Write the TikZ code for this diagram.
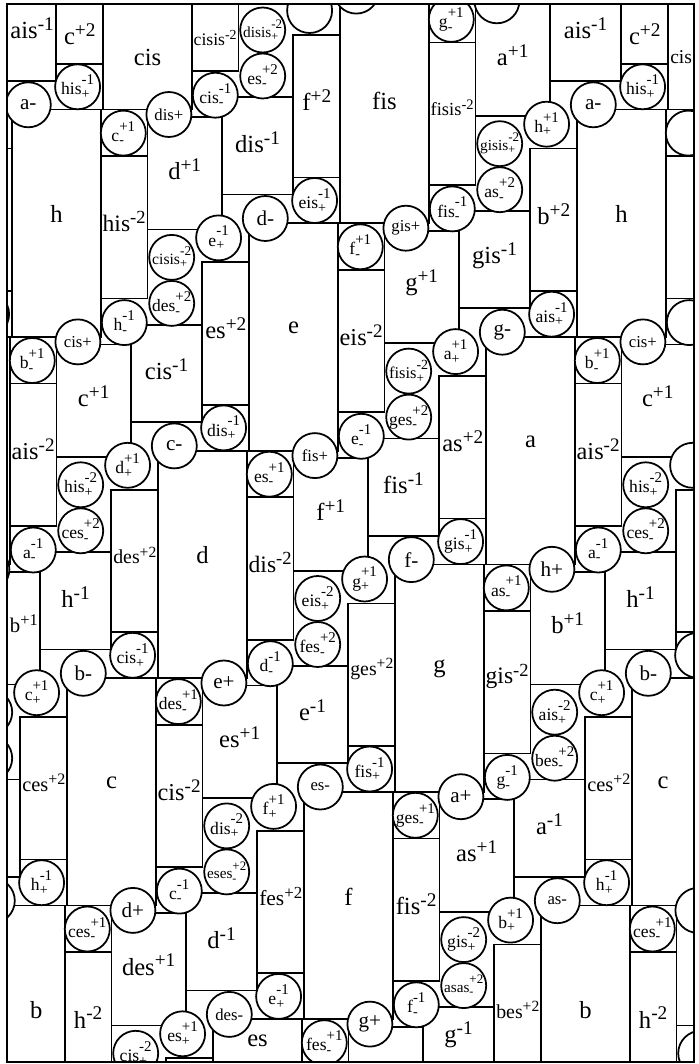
\documentclass[tikz,border=0pt]{standalone}
\usepackage{fontspec}
\setmainfont{Liberation Serif}
\usepackage{graphicx}
\newsavebox\labbox
\newdimen\pxu \pxu=0.02cm
% note names on the chain of fifths, index 0 = c
\newcommand\nm[1]{\ifcase\numexpr#1+12\relax deses\or asas\or eses\or bes\or fes\or ces\or ges\or des\or as\or es\or b\or f\or c\or g\or d\or a\or e\or h\or fis\or cis\or gis\or dis\or ais\or eis\or his\or fisis\or cisis\or gisis\or disis\or aisis\or eisis\fi}
\newcommand\fitlab[2]{\sbox\labbox{#2}\ifdim\wd\labbox>#1\relax\ifdim0.6\wd\labbox>#1\relax\else\resizebox{#1}{!}{\usebox\labbox}\fi\else\usebox\labbox\fi}
\newcommand\biglab[1]{{\fontsize{14}{15}\selectfont#1}}
\newcommand\rlab[2]{{\fontsize{14}{15}\selectfont#1}\raisebox{1ex}{\fontsize{11}{12}\selectfont#2}}
\newcommand\clab[3]{{\fontsize{10}{11}\selectfont#1}\rlap{\raisebox{-.45ex}{\fontsize{8}{9}\selectfont#2}}\raisebox{1.25ex}{\fontsize{8.5}{9}\selectfont#3}}
\newcommand\plab[2]{\ifnum\numexpr#1\relax<-2 \def\plsize{9.5}\else\ifnum\numexpr#1\relax>5 \def\plsize{9.5}\else\def\plsize{12}\fi\fi{\fontsize{\plsize}{\plsize}\selectfont\nm{#1}#2}}
% rectangle with its label
\newcommand\rbox[5]{%
  \pgfmathsetmacro\xa{#1}\pgfmathsetmacro\ya{#2}%
  \pgfmathsetmacro\xb{#3}\pgfmathsetmacro\yb{#4}%
  \draw (\xa,\ya) rectangle (\xb,\yb);
  \pgfmathsetmacro\lw{min(\xb,694)-max(\xa,8)-4}%
  \pgfmathsetmacro\lx{(max(\xa,8)+min(\xb,694))/2}%
  \pgfmathsetmacro\tmpy{\ya+0.46*(\yb-\ya)}%
  \pgfmathsetmacro\vh{min(\yb,1062)-max(\ya,5)}%
  \pgfmathsetmacro\ly{ifthenelse(and(\tmpy>16,\tmpy<1050),\tmpy,(max(\ya,5)+min(\yb,1062))/2)}%
  \pgfmathsetmacro\ok{and(\lw>8,or(and(\tmpy>16,\tmpy<1050),\vh>40))}%
  \ifdim\ok pt>0.5pt \node[rtext] at (\lx,\ly) {\fitlab{\lw\pxu}{#5}};\fi}
% circle with its label
\newcommand\cbox[3]{%
  \pgfmathsetmacro\xa{#1}\pgfmathsetmacro\ya{#2}%
  \draw[fill=white] (\xa,\ya) circle[radius=0.45cm];
  \pgfmathsetmacro\ok{and(and(\xa>20,\xa<688),and(\ya>12,\ya<1058))}%
  \ifdim\ok pt>0.5pt \node[ctext] at (\xa,\ya) {\fitlab{39\pxu}{#3}};\fi}
\newcommand\unitrects[3]{%
  \rbox{#2}{#3}{#2+88.4}{#3+227.4}{\biglab{\nm{#1}}}%
  \rbox{#2-47}{#3+39}{#2}{#3+181.5}{\rlab{\nm{#1-7}}{+2}}%
  \rbox{#2+88.4}{#3+46.6}{#2+135.3}{#3+189}{\rlab{\nm{#1+7}}{-2}}%
  \rbox{#2+135.3}{#3+7.5}{#2+209.5}{#3+120}{\rlab{\nm{#1-3}}{+1}}%
  \rbox{#2+209.5}{#3-12.3}{#2+281}{#3+85}{\rlab{\nm{#1+4}}{-1}}}
\newcommand\unitcircles[3]{%
  \cbox{#2-25.7}{#3+204.6}{\clab{\nm{#1+5}}{+}{-1}}%
  \cbox{#2-30.7}{#3+14.6}{\clab{\nm{#1}}{+}{\ifnum#1=4 -1\else+1\fi}}%
  \cbox{#2+16}{#3-4.8}{\plab{#1-2}{-}}%
  \cbox{#2+111}{#3+23.5}{\clab{\nm{#1-5}}{-}{+1}}%
  \cbox{#2+156.6}{#3+4.9}{\plab{#1+4}{+}}%
  \cbox{#2+159.4}{#3+147.8}{\clab{\nm{#1+9}}{+}{-2}}%
  \cbox{#2+159.4}{#3+193.8}{\clab{\nm{#1-10}}{-}{+2}}%
  \cbox{#2+112}{#3+213}{\clab{\nm{#1}}{-}{-1}}}

\begin{document}
\begin{tikzpicture}[x=0.02cm,y=-0.02cm,line width=1pt,
    rtext/.style={inner sep=0pt},
    ctext/.style={inner sep=0pt}]
  \useasboundingbox (0,0) rectangle (699,1064);
  \begin{scope}
    \clip (7,4) rectangle (694,1062);
    \foreach \n in {-4,...,9}{
      \pgfmathsetmacro\ax{mod(12.3+(5-\n)*237+5650,565)}
      \pgfmathsetmacro\ay{109.6+(5-\n)*113.7}
      \foreach \s in {-565,0,565}{
        \pgfmathsetmacro\bx{\ax+\s}
        \unitrects{\n}{\bx}{\ay}
      }
    }
    \foreach \n in {-4,...,9}{
      \pgfmathsetmacro\ax{mod(12.3+(5-\n)*237+5650,565)}
      \pgfmathsetmacro\ay{109.6+(5-\n)*113.7}
      \foreach \s in {-565,0,565}{
        \pgfmathsetmacro\bx{\ax+\s}
        \unitcircles{\n}{\bx}{\ay}
      }
    }
  \end{scope}
  \draw (7,4) rectangle (694,1062);
\end{tikzpicture}
\end{document}
